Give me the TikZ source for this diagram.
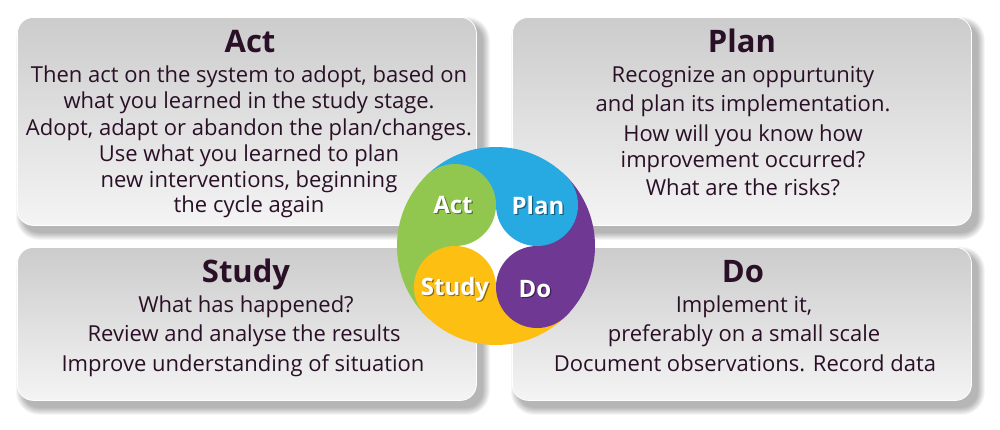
\documentclass[tikz,border=0pt]{standalone}
\usepackage{fontspec}
\setmainfont{Open Sans}
\usetikzlibrary{backgrounds}
\definecolor{txt}{HTML}{2A1027}
\definecolor{boxtop}{HTML}{CCCCCC}
\definecolor{boxbot}{HTML}{F4F4F4}
\definecolor{pdgreen}{HTML}{92C74F}
\definecolor{pdblue}{HTML}{27A9E1}
\definecolor{pdpurple}{HTML}{6E3893}
\definecolor{pdyellow}{HTML}{FCBF12}
\begin{document}
\begin{tikzpicture}[x=1pt,y=-1pt,
  box/.style={draw=white, line width=0.8pt, rounded corners=16pt,
    top color=boxtop, bottom color=boxbot, minimum width=459pt,
    inner sep=0pt, anchor=north west},
  body/.style={anchor=base, inner sep=0pt, text=txt,
    font=\fontsize{22}{26}\selectfont},
  ttl/.style={anchor=base, inner sep=0pt, text=txt,
    font=\fontsize{31}{36}\selectfont\bfseries},
  lbl/.style={inner sep=0pt, text=white,
    font=\fontsize{24}{28}\selectfont\bfseries},
  lblsh/.style={inner sep=0pt, text=black, opacity=0.45,
    font=\fontsize{24}{28}\selectfont\bfseries},
]
\useasboundingbox (0,0) rectangle (1000,429);

% boxes
\node[box, minimum height=208pt] (actbox) at (17,17) {};
\node[box, minimum height=208pt] (planbox) at (512,17) {};
\node[box, minimum height=153pt] (studybox) at (17,247) {};
\node[box, minimum height=153pt] (dobox) at (512,247) {};

% shadows
\begin{scope}[on background layer]
  \fill[white] (0,0) rectangle (1000,429);
  \foreach \b in {actbox,planbox,studybox,dobox}{
    \foreach \r in {0,...,7}{
      \pgfmathsetmacro\rc{16+\r}
      \fill[black, opacity=0.04, rounded corners=\rc pt]
        ([shift={(6-\r,7-\r)}]\b.north west) rectangle
        ([shift={(6+\r,7+\r)}]\b.south east);
    }
  }
\end{scope}

% Act text
\node[ttl] (acttitle) at (250,52) {Act};
\node[body] (act1) at (249,82) {Then act on the system to adopt, based on};
\node[body] (act2) at (249,108) {what you learned in the study stage.};
\node[body] (act3) at (249,135) {Adopt, adapt or abandon the plan/changes.};
\node[body] (act4) at (249,161) {Use what you learned to plan};
\node[body] (act5) at (249,187) {new interventions, beginning};
\node[body] (act6) at (249,212) {the cycle again};

% Plan text
\node[ttl] (plantitle) at (742,52) {Plan};
\node[body] (plan1) at (743,82) {Recognize an oppurtunity};
\node[body] (plan2) at (743,111) {and plan its implementation.};
\node[body] (plan3) at (743,141) {How will you know how};
\node[body] (plan4) at (743,167) {improvement occurred?};
\node[body] (plan5) at (743,195) {What are the risks?};

% Study text
\node[ttl] (studytitle) at (246,282) {Study};
\node[body] (study1) at (246,312) {What has happened?};
\node[body] (study2) at (244,341) {Review and analyse the results};
\node[body] (study3) at (243,371) {Improve understanding of situation};

% Do text
\node[ttl] (dotitle) at (743,282) {Do};
\node[body] (do1) at (744,312) {Implement it,};
\node[body] (do2) at (744,341) {preferably on a small scale};
\node[body] (do3) at (745,371) {Document observations. Record data};

% cycle (y axis points down: angles are mirrored)
\coordinate (C) at (496,246);
\fill[pdblue] (C) -- ++(225:99) arc[start angle=225, end angle=315, radius=99] -- cycle;
\fill[pdgreen] (C) -- ++(135:99) arc[start angle=135, end angle=225, radius=99] -- cycle;
\fill[pdyellow] (C) -- ++(45:99) arc[start angle=45, end angle=135, radius=99] -- cycle;
\fill[pdpurple] (C) -- ++(-45:99) arc[start angle=-45, end angle=45, radius=99] -- cycle;
\fill[white] (496,205) -- (537,246) -- (496,287) -- (455,246) -- cycle;
\fill[pdgreen] (455,205) circle[radius=41];
\fill[pdblue] (537,205) circle[radius=41];
\fill[pdpurple] (537,287) circle[radius=41];
\fill[pdyellow] (455,287) circle[radius=41];

\node[lblsh] (actsh) at (454.2,206.2) {Act};
\node[lbl] (actlbl) at (453,205) {Act};
\node[lblsh] (plansh) at (539.2,206.2) {Plan};
\node[lbl] (planlbl) at (538,205) {Plan};
\node[lblsh] (studysh) at (456.2,290.2) {Study};
\node[lbl] (studylbl) at (455,289) {Study};
\node[lblsh] (dosh) at (536.2,290.2) {Do};
\node[lbl] (dolbl) at (535,289) {Do};
\end{tikzpicture}
\end{document}
